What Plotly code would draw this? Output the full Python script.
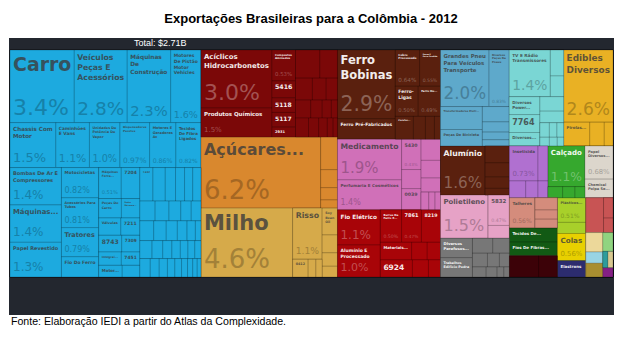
import plotly.graph_objects as go

# ------------------------------------------------------------------
# Texts
# ------------------------------------------------------------------
TITLE = "<b>Exportações Brasileiras para a Colômbia - 2012</b>"
TOTAL_LABEL = "Total: $2.71B"
SOURCE = "Fonte: Elaboração IEDI a partir do Atlas da Complexidade."

# ------------------------------------------------------------------
# Data: share of total exports (%)
# ------------------------------------------------------------------
# Vehicles & machinery (blue)
veh_top_labels = ["Carro", "Veículos<br>Peças E<br>Acessórios", "Máquinas<br>De<br>Construção",
                  "Motores<br>De Pistão<br>Motor<br>Vehicles"]
veh_top_values = [3.4, 2.8, 2.3, 1.6]
veh_top_pct = ["3.4%", "2.8%", "2.3%", "1.6%"]

veh_mid_labels = ["Chassis Com<br>Motor", "Caminhões<br>E Vans", "Unidades De<br>Potência De<br>Vapor",
                  "Dispensadores<br>Pacotes", "Motores E<br>Geradores<br>Ac", "Tecidos<br>De Fibra<br>Ligados"]
veh_mid_values = [1.5, 1.1, 1.0, 0.97, 0.86, 0.82]
veh_mid_pct = ["1.5%", "1.1%", "1.0%", "0.97%", "0.86%", "0.82%"]

veh_a_labels = ["Bombas De Ar E<br>Compressores", "Máquinas...", "Papel Revestido"]
veh_a_values = [1.4, 1.4, 1.3]
veh_a_pct = ["1.4%", "1.4%", "1.3%"]

veh_b_labels = ["Motocicletas", "Acessórios Para<br>Tubos", "Tratores", "Fio Do Ferro"]
veh_b_values = [0.82, 0.81, 0.79, 0.55]
veh_b_pct = ["0.82%", "0.81%", "0.79%", ""]

veh_c_labels = [["Máquinas<br>Ferra...", "7204"], ["Peças De<br>Carro", "Pedra<br>Mármore..."],
                ["Válvulas", "7211"], ["8743", "7309"], ["Integrai...", "7451"], ["Motor...", ""]]
veh_c_values = [[0.51, 0.42], [0.32, 0.26], [0.28, 0.24], [0.28, 0.22], [0.22, 0.18], [0.2, 0.15]]
veh_c_pct = [["0.51%", ""], ["", ""], ["", ""], ["", ""], ["", ""], ["", ""]]

veh_d_labels = [["7432", "", "", "", "", ""]]
veh_d_values = [[0.32, 0.3, 0.25, 0.22, 0.2, 0.2],
                [0.22, 0.2, 0.17, 0.15, 0.14],
                [0.2, 0.18, 0.16, 0.14, 0.12, 0.08],
                [0.16, 0.14, 0.12, 0.11, 0.1, 0.09, 0.08],
                [0.14, 0.12, 0.11, 0.1, 0.09, 0.08, 0.07, 0.06, 0.05]]

# Chemicals (dark red)
chem_a_labels = ["Acíclicos<br>Hidrocarbonetos", "Produtos Químicos"]
chem_a_values = [3.0, 1.5]
chem_a_pct = ["3.0%", "1.5%"]
chem_b_labels = ["Compostos<br>Aminados", "5416", "5118", "5117", "2931"]
chem_b_values = [0.53, 0.29, 0.25, 0.25, 0.17]
chem_b_pct = ["0.53%", "", "", "", ""]
chem_c_values = [[0.5, 0.36], [0.27, 0.22, 0.18], [0.2, 0.15, 0.12, 0.08], [0.18, 0.14, 0.12, 0.08, 0.06]]

# Sugar (orange) and grains (yellow)
sugar_labels = ["Açúcares..."]
sugar_values = [6.2]
sugar_pct = ["6.2%"]
sugar_small_values = [0.4, 0.22, 0.15, 0.1]

grain_labels = ["Milho"]
grain_values = [4.6]
grain_pct = ["4.6%"]
rice_labels = ["Risso"]
rice_values = [1.1]
rice_pct = ["1.1%"]
rice_row_labels = ["0412", "", ""]
rice_row_values = [0.2, 0.1, 0.08]
soy_labels = ["Soy<br>Bean<br>Oil", "", "", ""]
soy_values = [0.3, 0.2, 0.15, 0.12]

# Iron (brown)
iron_a_labels = ["Ferro<br>Bobinas", "Ferro Pré-Fabricados"]
iron_a_values = [2.9, 0.86]
iron_a_pct = ["2.9%", ""]
iron_b_labels = [["Cobre<br>Processado", "Peças E<br>Ferro Fundido"], ["Ferro-<br>Ligas", "Ferro Ou..."],
                 ["Parafus...", "", "", ""]]
iron_b_values = [[0.64, 0.55], [0.50, 0.49], [0.3, 0.2, 0.15, 0.1]]
iron_b_pct = [["0.64%", "0.55%"], ["0.50%", "0.49%"], ["", "", "", ""]]

# Pharma (pink)
pharma_a_labels = ["Medicamento", "Perfumaria E Cosméticos"]
pharma_a_values = [1.9, 1.4]
pharma_a_pct = ["1.9%", "1.4%"]
pharma_b_labels = ["5430", "", "0039"]
pharma_b_values = [0.43, 0.27, 0.3]
pharma_b_pct = ["0.43%", "", ""]
pharma_c_values = [0.3, 0.25, 0.2]
pharma_c_row_values = [0.1, 0.08, 0.07]

# Electrical wire (red)
wire_a_labels = ["Fio Elétrico", "Alumínio E<br>Processado"]
wire_a_values = [1.1, 1.0]
wire_a_pct = ["1.1%", "1.0%"]
wire_b_labels = [["Barras De<br>Ferro E...", "7861", "8219"], ["Materiais...", "", ""], ["6924", "", ""]]
wire_b_values = [[0.5, 0.47, 0.45], [0.4, 0.2, 0.17], [0.4, 0.2, 0.15]]
wire_b_pct = [["0.50%", "0.47%", ""], ["", "", ""], ["", "", ""]]

# Tyres (steel blue), TV (cyan), edibles (gold)
tyre_r1_labels = ["Grandes Pneu<br>Para Veículos<br>Transporte", "Diversos<br>Peças De<br>Pneus"]
tyre_r1_values = [2.0, 0.83]
tyre_r1_pct = ["2.0%", "0.83%"]
tyre_r2_labels = ["Transformadores Eletr...", "Peças De Bicicleta"]
tyre_r2_values = [0.7, 0.5]
tyre_r2_small = [0.3, 0.2, 0.15, 0.12]

tv_labels = ["TV E Rádio<br>Transmissores"]
tv_values = [1.4]
tv_pct = ["1.4%"]
tv_side_values = [0.25, 0.2]
tv_r2_labels = ["Diversos<br>Power...", "7764", "Diversos..."]
tv_r2_values = [0.4, 0.4, 0.3]
tv_r2_small = [0.25, 0.2]
tv_r2_rows = [[0.1, 0.08, 0.07], [0.06, 0.05, 0.04]]

food_labels = ["Edibles<br>Diversos"]
food_values = [2.6]
food_pct = ["2.6%"]
food_row_labels = ["Pirolas...", "", ""]
food_row_values = [0.45, 0.25, 0.15]

# Lower right block
alum_labels = ["Alumínio"]
alum_values = [1.6]
alum_pct = ["1.6%"]
alum_small = [0.3, 0.25, 0.2, 0.12]

poly_labels = ["Polietileno"]
poly_values = [1.5]
poly_pct = ["1.5%"]
poly_side_labels = ["5832", ""]
poly_side_values = [0.47, 0.2]
poly_side_pct = ["0.47%", ""]

stone_labels = ["Diversos<br>Parafusos...", "Trabalhos<br>Edifício Pedra"]
stone_values = [0.45, 0.45]
stone_rows = [[0.22, 0.18], [0.15, 0.12, 0.1], [0.1, 0.08, 0.05, 0.04]]

insect_labels = ["Inseticida", ""]
insect_values = [0.73, 0.25]
insect_pct = ["0.73%", ""]
insect_row_values = [0.2, 0.15, 0.12]

shoe_labels = ["Calçado"]
shoe_values = [1.1]
shoe_pct = ["1.1%"]
shoe_row_values = [0.12, 0.1, 0.08]

paper_labels = ["Papel<br>Diversos...", "Chemical<br>Polpa Se..."]
paper_values = [0.68, 0.38]
paper_pct = ["0.68%", ""]

cutlery_labels = ["Talheres"]
cutlery_values = [0.56]
cutlery_pct = ["0.56%"]
cutlery_small = [0.2, 0.15, 0.14]

yarn_labels = ["Tecidos De...", "Fios De Fibras..."]
yarn_values = [0.5, 0.48]
maroon_values = [0.45, 0.29]

plastic_labels = ["Plásticos...", ""]
plastic_values = [0.51, 0.23]
plastic_pct = ["0.51%", ""]
glue_labels = ["Colas"]
glue_values = [0.56]
glue_pct = ["0.56%"]
navy_labels = ["Elastrons"]
navy_values = [0.34]

redb_values = [0.45]
redb_small = [0.14, 0.1]
misc_col1_values = [0.24, 0.14, 0.17]
misc_col2_top = [0.14]
misc_col2_row = [0.06, 0.06]
misc_col2_bottom = [0.07]

# ------------------------------------------------------------------
# Colours
# ------------------------------------------------------------------
BLUE = "#1daadf"; CHEM = "#7b0808"; SUGAR = "#d9882e"; GRAIN = "#d6aa4a"
IRON = "#5a200e"; PHARMA = "#d070b8"; WIRE = "#a80408"; TYRE = "#5ea9cb"
TV = "#7ad6d4"; FOOD = "#e9b124"; POLY = "#e6a2c6"; STONE = "#777777"
INSECT = "#b070d0"; SHOE = "#36a82e"; PAPER = "#dcd6cc"; CUTLERY = "#d48c7c"
PLASTIC = "#a8d02a"; REDB = "#c85454"; YARN = "#125a14"; MAROON = "#3c0208"
GLUE = "#e8d000"; NAVY = "#2c2c6e"; BEIGE = "#ecd89a"; LGREEN = "#90d480"
LBLUE = "#98d4e4"; TEAL = "#2e9c9c"; TAN = "#d8c890"; OLIVE = "#a88e30"; PURPLE = "#842084"
DARK_BG = "#23272f"
LIGHT_TEXT = {CHEM, IRON, WIRE, SHOE, STONE, YARN, MAROON, NAVY, TEAL, OLIVE, PURPLE}


def blend(hex_color, target, t):
    h = hex_color.lstrip("#")
    rgb = [int(h[i:i + 2], 16) for i in (0, 2, 4)]
    out = [round(c * (1 - t) + g * t) for c, g in zip(rgb, target)]
    return "rgb({},{},{})".format(*out)


# ------------------------------------------------------------------
# Build hierarchy (groups alternate horizontal / vertical splits)
# ------------------------------------------------------------------
ids, parents, labels, values, colors = [], [], [], [], []
label_txt, pct_txt, label_fs, pct_fs, label_col, pct_col = [], [], [], [], [], []
_count = {}


def add_node(nid, parent, value, color, label="", pct="", fs=6, pfs=8):
    ids.append(nid)
    parents.append(parent)
    labels.append(label.replace("<br>", " ") if label else nid)
    values.append(value)
    colors.append(color)
    label_txt.append(f"<b>{label}</b>" if label else "")
    pct_txt.append(pct)
    label_fs.append(fs)
    pct_fs.append(pfs)
    if color in LIGHT_TEXT:
        label_col.append(blend(color, (255, 255, 255), 0.92))
        pct_col.append(blend(color, (255, 255, 255), 0.3))
    else:
        label_col.append(blend(color, (60, 60, 60), 0.8))
        pct_col.append(blend(color, (0, 0, 0), 0.24))


def group(nid, parent, color):
    add_node(nid, parent, 0, color)
    return nid


def leaves(parent, color, vals, labs=None, pcts=None, fs=6, pfs=8):
    n = len(vals)
    labs = labs or [""] * n
    pcts = pcts or [""] * n
    fs = fs if isinstance(fs, list) else [fs] * n
    pfs = pfs if isinstance(pfs, list) else [pfs] * n
    for i in range(n):
        k = _count.get(parent, 0)
        _count[parent] = k + 1
        add_node(f"{parent}/{k}", parent, vals[i], color, labs[i], pcts[i], fs[i], pfs[i])


group("root", "", DARK_BG)

# ---- column 1: vehicles & machinery
c1 = group("c1", "root", BLUE)
r = group("c1r1", c1, BLUE)
leaves(r, BLUE, veh_top_values, veh_top_labels, veh_top_pct, fs=[20, 10, 9.5, 7], pfs=[22, 22, 22, 14])
r = group("c1r2", c1, BLUE)
leaves(r, BLUE, veh_mid_values, veh_mid_labels, veh_mid_pct, fs=[8, 5.5, 5, 5, 5, 5], pfs=[13, 13, 13, 11, 9, 8])
r3 = group("c1r3", c1, BLUE)
a = group("c1a", r3, BLUE)
leaves(a, BLUE, veh_a_values, veh_a_labels, veh_a_pct, fs=[5.5, 7, 7], pfs=[12, 12, 12])
b = group("c1b", r3, BLUE)
leaves(b, BLUE, veh_b_values, veh_b_labels, veh_b_pct, fs=[5.5, 4.5, 6.5, 6], pfs=[8, 8, 8, 8])
c = group("c1c", r3, BLUE)
for k, (labs, vals, pcts) in enumerate(zip(veh_c_labels, veh_c_values, veh_c_pct)):
    row = group(f"c1c{k}", c, BLUE)
    leaves(row, BLUE, vals, labs, pcts, fs=[4.5 if "<br>" in s or "..." in s else 7 for s in labs], pfs=8)
d = group("c1d", r3, BLUE)
for k, vals in enumerate(veh_d_values):
    row = group(f"c1d{k}", d, BLUE)
    labs = veh_d_labels[k] if k < len(veh_d_labels) else None
    leaves(row, BLUE, vals, labs, fs=6)

# ---- column 2: chemicals, sugar, grains
c2 = group("c2", "root", CHEM)
red = group("c2red", c2, CHEM)
g = group("c2ra", red, CHEM)
leaves(g, CHEM, chem_a_values, chem_a_labels, chem_a_pct, fs=[10, 5.5], pfs=[22, 7])
g = group("c2rb", red, CHEM)
leaves(g, CHEM, chem_b_values, chem_b_labels, chem_b_pct, fs=[4, 7, 6, 6, 5.5], pfs=7)
g = group("c2rc", red, CHEM)
for k, vals in enumerate(chem_c_values):
    row = group(f"c2rc{k}", g, CHEM)
    leaves(row, CHEM, vals)
org = group("c2org", c2, SUGAR)
leaves(org, SUGAR, sugar_values, sugar_labels, sugar_pct, fs=16, pfs=26)
g = group("c2orgs", org, SUGAR)
leaves(g, SUGAR, sugar_small_values)
yel = group("c2yel", c2, GRAIN)
leaves(yel, GRAIN, grain_values, grain_labels, grain_pct, fs=21, pfs=26)
g = group("c2rice", yel, GRAIN)
leaves(g, GRAIN, rice_values, rice_labels, rice_pct, fs=9, pfs=11)
row = group("c2riceb", g, GRAIN)
leaves(row, GRAIN, rice_row_values, rice_row_labels, fs=5.5)
g = group("c2soy", yel, GRAIN)
leaves(g, GRAIN, soy_values, soy_labels, fs=4)

# ---- column 3: iron, pharma, wire
c3 = group("c3", "root", IRON)
brn = group("c3brn", c3, IRON)
g = group("c3ba", brn, IRON)
leaves(g, IRON, iron_a_values, iron_a_labels, iron_a_pct, fs=[14, 5], pfs=[24, 7])
g = group("c3bb", brn, IRON)
for k, (labs, vals, pcts) in enumerate(zip(iron_b_labels, iron_b_values, iron_b_pct)):
    row = group(f"c3bb{k}", g, IRON)
    leaves(row, IRON, vals, labs, pcts, fs=4.5, pfs=7)
pnk = group("c3pnk", c3, PHARMA)
g = group("c3pa", pnk, PHARMA)
leaves(g, PHARMA, pharma_a_values, pharma_a_labels, pharma_a_pct, fs=[10, 5], pfs=[15, 8])
g = group("c3pb", pnk, PHARMA)
leaves(g, PHARMA, pharma_b_values, pharma_b_labels, pharma_b_pct, fs=5, pfs=6)
g = group("c3pc", pnk, PHARMA)
leaves(g, PHARMA, pharma_c_values)
row = group("c3pcr", g, PHARMA)
leaves(row, PHARMA, pharma_c_row_values)
wr = group("c3wire", c3, WIRE)
g = group("c3wa", wr, WIRE)
leaves(g, WIRE, wire_a_values, wire_a_labels, wire_a_pct, fs=[8, 4.5], pfs=[12, 11])
g = group("c3wb", wr, WIRE)
for k, (labs, vals, pcts) in enumerate(zip(wire_b_labels, wire_b_values, wire_b_pct)):
    row = group(f"c3wb{k}", g, WIRE)
    leaves(row, WIRE, vals, labs, pcts, fs=[4 if "<br>" in s or "..." in s else 7.5 for s in labs], pfs=7)

# ---- column 4
c4 = group("c4", "root", TYRE)
top = group("c4top", c4, TYRE)
ty = group("c4ty", top, TYRE)
row = group("c4ty1", ty, TYRE)
leaves(row, TYRE, tyre_r1_values, tyre_r1_labels, tyre_r1_pct, fs=[6, 3.8], pfs=[20, 6])
row = group("c4ty2", ty, TYRE)
g = group("c4ty2a", row, TYRE)
leaves(g, TYRE, tyre_r2_values, tyre_r2_labels, fs=4)
g = group("c4ty2b", row, TYRE)
leaves(g, TYRE, tyre_r2_small)
tvg = group("c4tv", top, TV)
row = group("c4tv1", tvg, TV)
leaves(row, TV, tv_values, tv_labels, tv_pct, fs=5.5, pfs=15)
g = group("c4tv1s", row, TV)
leaves(g, TV, tv_side_values)
row = group("c4tv2", tvg, TV)
g = group("c4tv2a", row, TV)
leaves(g, TV, tv_r2_values, tv_r2_labels, fs=[4, 8, 4])
g = group("c4tv2b", row, TV)
leaves(g, TV, tv_r2_small)
for k, vals in enumerate(tv_r2_rows):
    rr = group(f"c4tv2b{k}", g, TV)
    leaves(rr, TV, vals)
fd = group("c4food", top, FOOD)
leaves(fd, FOOD, food_values, food_labels, food_pct, fs=12, pfs=24)
row = group("c4foodr", fd, FOOD)
leaves(row, FOOD, food_row_values, food_row_labels, fs=4)

bot = group("c4bot", c4, IRON)
ca = group("c4ca", bot, IRON)
g = group("c4alu", ca, IRON)
leaves(g, IRON, alum_values, alum_labels, alum_pct, fs=10, pfs=16)
s = group("c4alus", g, IRON)
leaves(s, IRON, alum_small)
g = group("c4poly", ca, POLY)
leaves(g, POLY, poly_values, poly_labels, poly_pct, fs=10, pfs=16)
s = group("c4polys", g, POLY)
leaves(s, POLY, poly_side_values, poly_side_labels, poly_side_pct, fs=5.5, pfs=6)
g = group("c4stone", ca, STONE)
s = group("c4stonea", g, STONE)
leaves(s, STONE, stone_values, stone_labels, fs=4)
s = group("c4stoneb", g, STONE)
for k, vals in enumerate(stone_rows):
    rr = group(f"c4stoneb{k}", s, STONE)
    leaves(rr, STONE, vals)

cb = group("c4cb", bot, INSECT)
row1 = group("c4cb1", cb, INSECT)
g = group("c4ins", row1, INSECT)
rr = group("c4ins1", g, INSECT)
leaves(rr, INSECT, insect_values, insect_labels, insect_pct, fs=4.5, pfs=8)
rr = group("c4ins2", g, INSECT)
leaves(rr, INSECT, insect_row_values)
g = group("c4shoe", row1, SHOE)
leaves(g, SHOE, shoe_values, shoe_labels, shoe_pct, fs=9, pfs=13)
rr = group("c4shoer", g, SHOE)
leaves(rr, SHOE, shoe_row_values)
g = group("c4paper", row1, PAPER)
leaves(g, PAPER, paper_values, paper_labels, paper_pct, fs=4, pfs=7)

row2 = group("c4cb2", cb, CUTLERY)
cx = group("c4cx", row2, CUTLERY)
g = group("c4cut", cx, CUTLERY)
leaves(g, CUTLERY, cutlery_values, cutlery_labels, cutlery_pct, fs=5, pfs=7)
s = group("c4cuts", g, CUTLERY)
leaves(s, CUTLERY, cutlery_small)
leaves(cx, YARN, yarn_values, yarn_labels, fs=4)
g = group("c4mar", cx, MAROON)
leaves(g, MAROON, maroon_values)
cy = group("c4cy", row2, PLASTIC)
leaves(cy, PLASTIC, plastic_values, plastic_labels, plastic_pct, fs=4, pfs=6)
leaves(cy, GLUE, glue_values, glue_labels, glue_pct, fs=7.5, pfs=7)
leaves(cy, NAVY, navy_values, navy_labels, fs=4)
cz = group("c4cz", row2, REDB)
g = group("c4redb", cz, REDB)
leaves(g, REDB, redb_values)
s = group("c4redbs", g, REDB)
leaves(s, REDB, redb_small)
g = group("c4misc", cz, BEIGE)
m1 = group("c4misc1", g, BEIGE)
for v, col in zip(misc_col1_values, [BEIGE, LBLUE, OLIVE]):
    leaves(m1, col, [v])
m2 = group("c4misc2", g, LGREEN)
leaves(m2, LGREEN, misc_col2_top)
mr = group("c4misc2r", m2, TEAL)
leaves(mr, TEAL, misc_col2_row[:1])
leaves(mr, TAN, misc_col2_row[1:])
leaves(m2, PURPLE, misc_col2_bottom)

# ------------------------------------------------------------------
# Figure
# ------------------------------------------------------------------
W, H = 622, 345
domain = dict(x=[10 / W, 613 / W], y=[1 - 277 / H, 1 - 50 / H])
common = dict(ids=ids, parents=parents, labels=labels, values=values, branchvalues="remainder",
              sort=False, tiling=dict(packing="slice-dice", pad=0), domain=domain,
              pathbar=dict(visible=False), maxdepth=-1, textinfo="text")

base = go.Treemap(
    **common,
    marker=dict(colors=colors, line=dict(width=0.6, color="rgba(0,0,0,0.3)"),
                pad=dict(t=0, l=0, r=0, b=0)),
    text=label_txt, textposition="top left",
    textfont=dict(family="DejaVu Sans", size=label_fs, color=label_col),
    hoverinfo="label+value",
)
overlay = go.Treemap(
    **common,
    marker=dict(colors=["rgba(0,0,0,0)"] * len(ids), line=dict(width=0),
                pad=dict(t=0, l=0, r=0, b=0)),
    text=pct_txt, textposition="bottom left",
    textfont=dict(family="DejaVu Sans", size=pct_fs, color=pct_col),
    insidetextfont=dict(family="DejaVu Sans", size=pct_fs, color=pct_col),
    hoverinfo="skip",
)

fig = go.Figure([base, overlay])
fig.update_layout(
    width=W, height=H, margin=dict(l=0, r=0, t=0, b=0),
    paper_bgcolor="white", plot_bgcolor="white",
    title=dict(text=TITLE, x=0.5, xanchor="center", y=1 - 18 / H, yanchor="middle",
               font=dict(family="Liberation Sans, Arial", size=13, color="black")),
    shapes=[dict(type="rect", xref="paper", yref="paper", x0=9 / W, x1=614 / W,
                 y0=1 - 315 / H, y1=1 - 38 / H, fillcolor=DARK_BG, line=dict(width=0), layer="below")],
    annotations=[
        dict(text=TOTAL_LABEL, x=160 / W, y=1 - 43.5 / H, xref="paper", yref="paper",
             xanchor="center", yanchor="middle", showarrow=False,
             font=dict(family="Liberation Sans, Arial", size=9, color="white")),
        dict(text=SOURCE, x=9 / W, y=1 - 321 / H, xref="paper", yref="paper",
             xanchor="left", yanchor="middle", showarrow=False,
             font=dict(family="Liberation Sans, Arial", size=10.6, color="black")),
    ],
)
fig.write_html("out.html")
